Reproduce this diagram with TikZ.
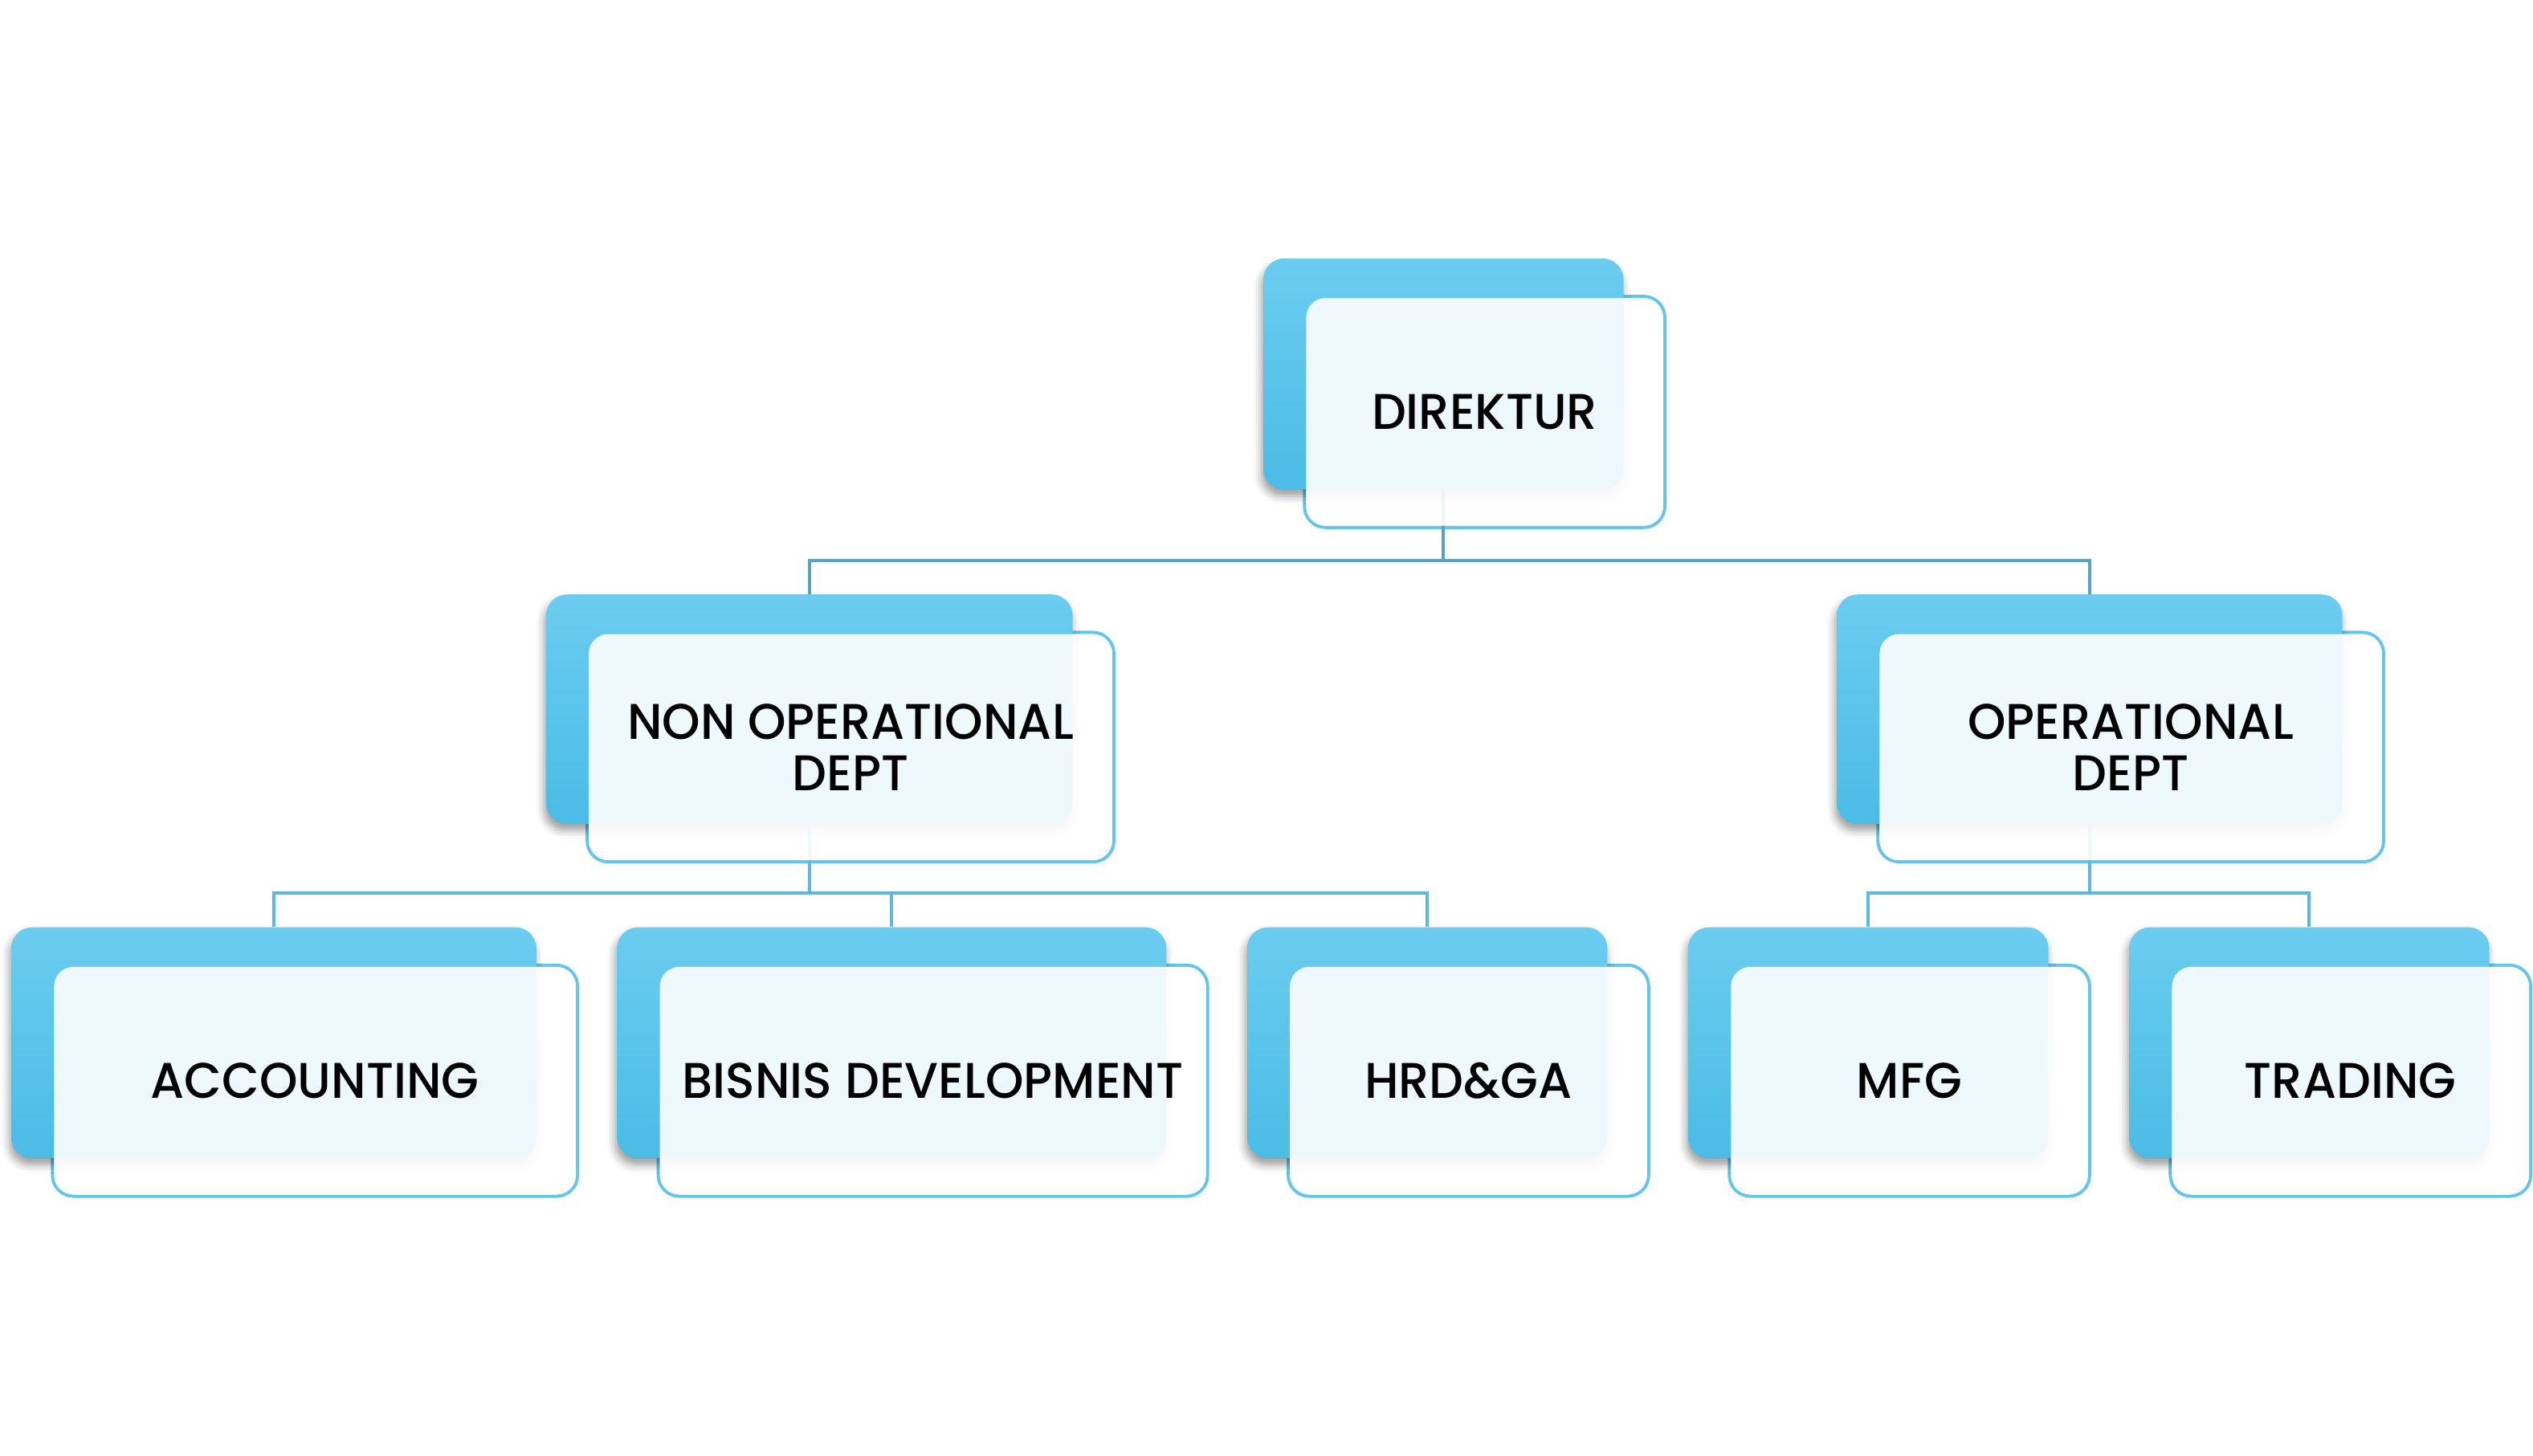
\documentclass[tikz,border=0pt]{standalone}
\usepackage{fontspec}
\newfontfamily\lblfont{Poppins Medium}[FakeStretch=0.97]
\usetikzlibrary{shadows.blur}
\definecolor{bluetop}{HTML}{6BCCEF}
\definecolor{bluebot}{HTML}{4ABCE6}
\definecolor{rimblue}{HTML}{62C6EA}
\definecolor{linkdark}{HTML}{55A3C6}
\definecolor{linkblue}{HTML}{5AB9DC}
\tikzset{
  backbox/.style={rectangle, rounded corners=13pt, top color=bluetop, bottom color=bluebot,
    draw=none, inner sep=0pt,
    blur shadow={shadow xshift=-1pt, shadow yshift=-4pt, shadow blur radius=5pt, shadow opacity=40}},
  rimbox/.style={rectangle, rounded corners=13pt, draw=rimblue, line width=2pt, inner sep=0pt, fill=none},
  facebox/.style={rectangle, rounded corners=12pt, fill=white, fill opacity=0.9, text opacity=1,
    inner sep=0pt, align=center, text=black, font=\lblfont\fontsize{31}{32}\selectfont},
  link/.style={draw=linkblue, line width=2pt},
  toplink/.style={draw=linkdark, line width=2pt},
}
\begin{document}
\begin{tikzpicture}[x=1pt,y=-1pt]
\useasboundingbox (0,0) rectangle (1568,901);
% front rims (drawn first, partly hidden by the back boxes)
\foreach \n/\x/\y/\w/\h in {dir/893.5/231.5/223/143, non/501/439/326/142, op/1293.5/439/313/142,
    acc/169.5/645.5/325/143, bis/552/645.5/340/143, hrd/883.5/645.5/223/143,
    mfg/1156.5/645.5/223/143, trd/1429.5/645.5/223/143}
  \node[rimbox, minimum width=\w pt, minimum height=\h pt] (\n R) at (\x+25.5,\y+23.5) {};
% back boxes
\foreach \n/\x/\y/\w/\h in {dir/893.5/231.5/223/143, non/501/439/326/142, op/1293.5/439/313/142,
    acc/169.5/645.5/325/143, bis/552/645.5/340/143, hrd/883.5/645.5/223/143,
    mfg/1156.5/645.5/223/143, trd/1429.5/645.5/223/143}
  \node[backbox, minimum width=\w pt, minimum height=\h pt] (\n A) at (\x,\y) {};
% connectors
\coordinate (bus1) at (0,347);
\coordinate (bus2) at (0,553);
\draw[toplink] (dirA.south) -- (dirA.south |- bus1) -| (nonA.north);
\draw[toplink] (dirA.south |- bus1) -| (opA.north);
\draw[link] (nonA.south) -- (nonA.south |- bus2) -| (accA.north);
\draw[link] (nonA.south |- bus2) -| (bisA.north);
\draw[link] (nonA.south |- bus2) -| (hrdA.north);
\draw[link] (opA.south) -- (opA.south |- bus2) -| (mfgA.north);
\draw[link] (opA.south |- bus2) -| (trdA.north);
% front faces with labels
\foreach \n/\x/\y/\w/\h/\t in {dir/893.5/231.5/223/143/{DIREKTUR},
    non/501/439/326/142/{NON OPERATIONAL\\DEPT}, op/1293.5/439/313/142/{OPERATIONAL\\DEPT},
    acc/169.5/645.5/325/143/{ACCOUNTING}, bis/552/645.5/340/143/{BISNIS DEVELOPMENT},
    hrd/883.5/645.5/223/143/{HRD\&GA}, mfg/1156.5/645.5/223/143/{MFG},
    trd/1429.5/645.5/223/143/{TRADING}}
  \node[facebox, minimum width=\w pt-2pt, minimum height=\h pt-2pt] (\n) at (\x+25.5,\y+23.5) {\t};
\end{tikzpicture}
\end{document}
